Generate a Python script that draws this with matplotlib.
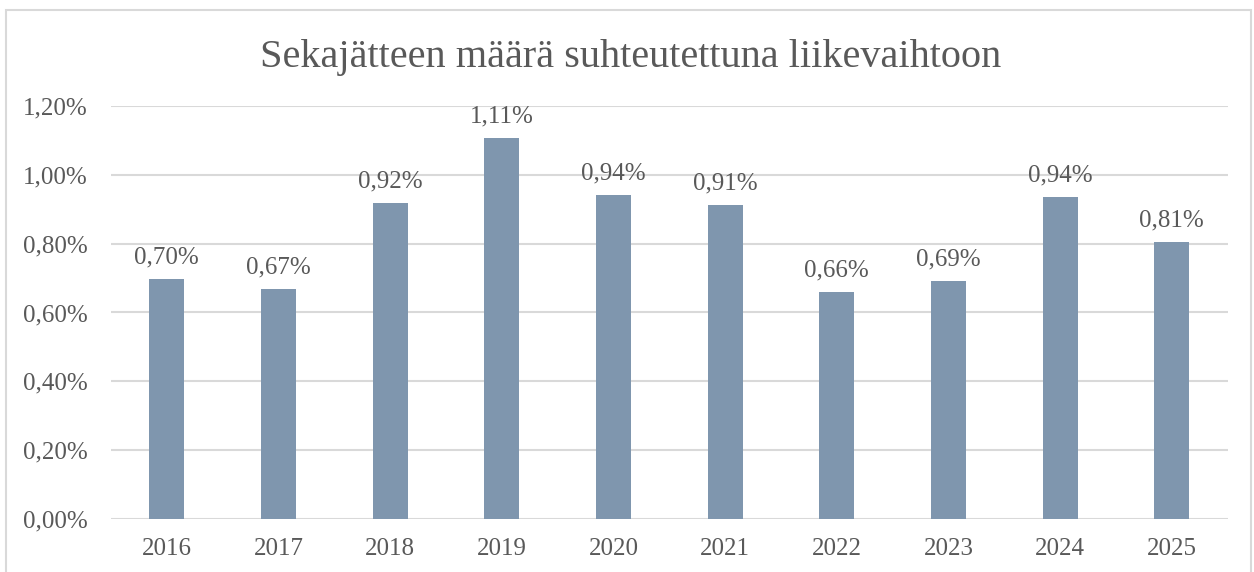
import matplotlib.pyplot as plt
from matplotlib.patches import Rectangle

years = ['2016', '2017', '2018', '2019', '2020', '2021', '2022', '2023', '2024', '2025']
values = [0.697, 0.668, 0.918, 1.107, 0.941, 0.912, 0.660, 0.691, 0.936, 0.805]
labels = ['0,70%', '0,67%', '0,92%', '1,11%', '0,94%', '0,91%', '0,66%', '0,69%', '0,94%', '0,81%']
yticks = [0.0, 0.2, 0.4, 0.6, 0.8, 1.0, 1.2]
ytick_labels = ['0,00%', '0,20%', '0,40%', '0,60%', '0,80%', '1,00%', '1,20%']

txt = '#595959'
plt.rcParams['font.family'] = ['Liberation Serif']

fig = plt.figure(figsize=(12.54, 5.72), dpi=100)
ax = fig.add_axes([0.0885, 0.0927, 0.8905, 0.722])

x = range(len(years))
ax.bar(x, values, width=0.313, color='#7F96AE', zorder=3)
for i, v in enumerate(values):
    ax.text(i, v + 0.03, labels[i], ha='center', va='bottom', fontsize=18, color=txt, zorder=4)

ax.set_xlim(-0.5, len(years) - 0.5)
ax.set_ylim(0, 1.2)
ax.set_yticks(yticks)
ax.set_yticklabels(ytick_labels)
ax.set_xticks(list(x))
ax.set_xticklabels(years)
ax.tick_params(axis='both', length=0, labelsize=18, labelcolor=txt)
ax.tick_params(axis='y', pad=16.5)
ax.tick_params(axis='x', pad=14)
ax.grid(axis='y', color='#D9D9D9', linewidth=1.5, zorder=0)
for s in ax.spines.values():
    s.set_visible(False)

fig.text(0.503, 0.9, 'Sekajätteen määrä suhteutettuna liikevaihtoon',
         ha='center', va='center', fontsize=29, color=txt)

fig.patches.append(Rectangle((0.005, -0.1), 0.993, 1.083, transform=fig.transFigure,
                             fill=False, edgecolor='#D9D9D9', linewidth=1.5))

fig.savefig('out.png', dpi=100)
